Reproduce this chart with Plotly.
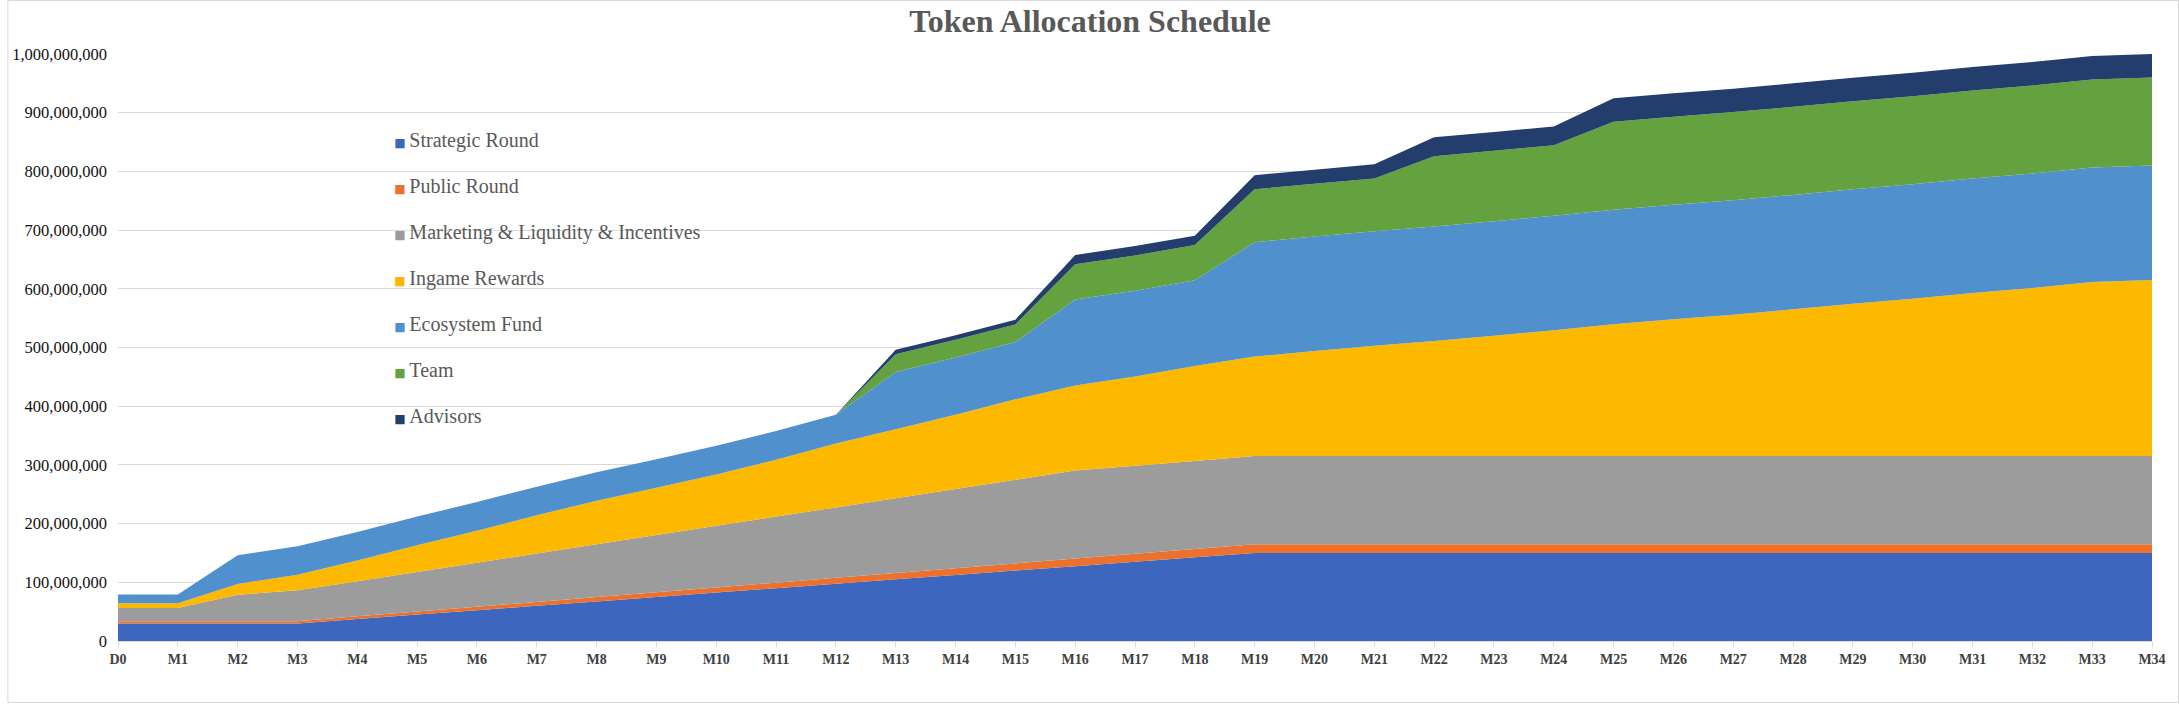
import plotly.graph_objects as go

# ---- data (values in millions of tokens) ----
months = ["D0", "M1", "M2", "M3", "M4", "M5", "M6", "M7", "M8", "M9", "M10",
          "M11", "M12", "M13", "M14", "M15", "M16", "M17", "M18", "M19", "M20",
          "M21", "M22", "M23", "M24", "M25", "M26", "M27", "M28", "M29", "M30",
          "M31", "M32", "M33", "M34"]

strategic_round = [30, 30, 30, 30, 37.5, 45, 52.5, 60, 67.5, 75, 82.5, 90, 97.5,
                   105, 112.5, 120, 127.5, 135, 142.5, 150, 150, 150, 150, 150,
                   150, 150, 150, 150, 150, 150, 150, 150, 150, 150, 150]
public_round = [3.8, 3.8, 3.8, 3.8, 4.5, 5.2, 5.9, 6.6, 7.3, 8.0, 8.7, 9.4, 10.1,
                10.8, 11.5, 12.2, 12.9, 13.6, 14.3, 15, 15, 15, 15, 15, 15, 15,
                15, 15, 15, 15, 15, 15, 15, 15, 15]
marketing = [22.5, 22.5, 45, 52.5, 60, 67.5, 75, 82.5, 90, 97.5, 105, 112.5, 120,
             127.5, 135, 142.5, 150, 150, 150, 150, 150, 150, 150, 150, 150, 150,
             150, 150, 150, 150, 150, 150, 150, 150, 150]
ingame_rewards = [8, 8, 18.5, 26.5, 35, 45.5, 54.5, 65, 74, 80.5, 87.5, 97, 109,
                  117.5, 126.5, 137, 145, 152, 161.5, 169.5, 179, 188, 196, 205,
                  214.5, 224.5, 233, 241, 250, 259.5, 268, 278, 286.5, 296.5, 300]
ecosystem_fund = [15, 15, 48.75, 48.75, 48.75, 48.75, 48.75, 48.75, 48.75, 48.75,
                  48.75, 48.75, 48.75, 97.5, 97.5, 97.5, 146.25, 146.25, 146.25,
                  195, 195, 195, 195, 195, 195, 195, 195, 195, 195, 195, 195, 195,
                  195, 195, 195]
team = [0, 0, 0, 0, 0, 0, 0, 0, 0, 0, 0, 0, 0, 30, 30, 30, 60, 60, 60, 90, 90, 90,
        120, 120, 120, 150, 150, 150, 150, 150, 150, 150, 150, 150, 150]
advisors = [0, 0, 0, 0, 0, 0, 0, 0, 0, 0, 0, 0, 0, 8, 8, 8, 16, 16, 16, 24, 24, 24,
            32, 32, 32, 40, 40, 40, 40, 40, 40, 40, 40, 40, 40]

series_names = ["Strategic Round", "Public Round", "Marketing & Liquidity & Incentives",
                "Ingame Rewards", "Ecosystem Fund", "Team", "Advisors"]
series_values = [strategic_round, public_round, marketing, ingame_rewards,
                 ecosystem_fund, team, advisors]
series_colors = ["#3D66BE", "#EB712C", "#9C9C9C", "#FDB800", "#5090CD", "#64A13F", "#233D6D"]

UNIT = 1_000_000

# ---- layout geometry (pixels) ----
W, H = 2180, 704
ML, MR, MT, MB = 111, 28, 54, 63
PW, PH = W - ML - MR, H - MT - MB

fig = go.Figure()

for name, vals, col in zip(series_names, series_values, series_colors):
    fig.add_trace(go.Scatter(
        x=months, y=[v * UNIT for v in vals], name=name,
        mode="none", stackgroup="one", fill="tonexty", fillcolor=col,
        line=dict(width=0), showlegend=False, hoverinfo="x+y+name",
    ))

# legend entries: small coloured square glyph followed by the series name
for name, col in zip(series_names, series_colors):
    label = ('<span style="font-family:DejaVu Sans;font-size:12px;color:%s">\u25A0 </span>%s'
             % (col, name))
    fig.add_trace(go.Scatter(
        x=[None], y=[None], name=label, mode="markers",
        marker=dict(symbol="square", size=1, color="rgba(0,0,0,0)"),
        legendgroup=name, showlegend=True, hoverinfo="skip",
    ))

serif = "Liberation Serif, Times New Roman, serif"

fig.update_layout(
    width=W, height=H,
    margin=dict(l=ML, r=MR, t=MT, b=MB, pad=0),
    paper_bgcolor="white", plot_bgcolor="white",
    title=dict(text="<b>Token Allocation Schedule</b>", x=0.5, xref="container",
               xanchor="center", y=1 - 21 / H, yref="container", yanchor="middle",
               font=dict(family=serif, size=32, color="#595959")),
    showlegend=True,
    legend=dict(x=(348 - ML) / PW, xanchor="left", y=(H - MB - 120) / PH, yanchor="top",
                traceorder="grouped", tracegroupgap=17,
                font=dict(family=serif, size=20, color="#595959"),
                bgcolor="rgba(0,0,0,0)", borderwidth=0),
    xaxis=dict(type="category", range=[0, len(months) - 1], tickmode="linear",
               tick0=0, dtick=1, showgrid=False, zeroline=False,
               showline=True, linecolor="#D9D9D9", linewidth=1,
               ticks="outside", ticklen=5, tickcolor="#D9D9D9", tickwidth=1,
               tickfont=dict(family=serif, size=14, color="#404040", weight="bold")),
    yaxis=dict(range=[0, 1_000_000_000], dtick=100_000_000, tick0=0,
               tickformat=",", showgrid=True, gridcolor="#D9D9D9", gridwidth=1,
               zeroline=False, showline=False, ticks="", ticklabelstandoff=10,
               tickfont=dict(family=serif, size=16.5, color="#111111")),
    shapes=[dict(type="rect", xref="paper", yref="paper",
                 x0=(0.5 - ML) / PW, x1=(W - 1.5 - ML) / PW,
                 y0=(H - MB - (H - 1.5)) / PH, y1=(H - MB - 0.5) / PH,
                 line=dict(color="#D9D9D9", width=1), fillcolor="rgba(0,0,0,0)",
                 layer="below")],
)

fig.write_html("out.html", config={"displayModeBar": False},
               post_script="document.body.style.margin='0';document.body.style.overflow='hidden';")
